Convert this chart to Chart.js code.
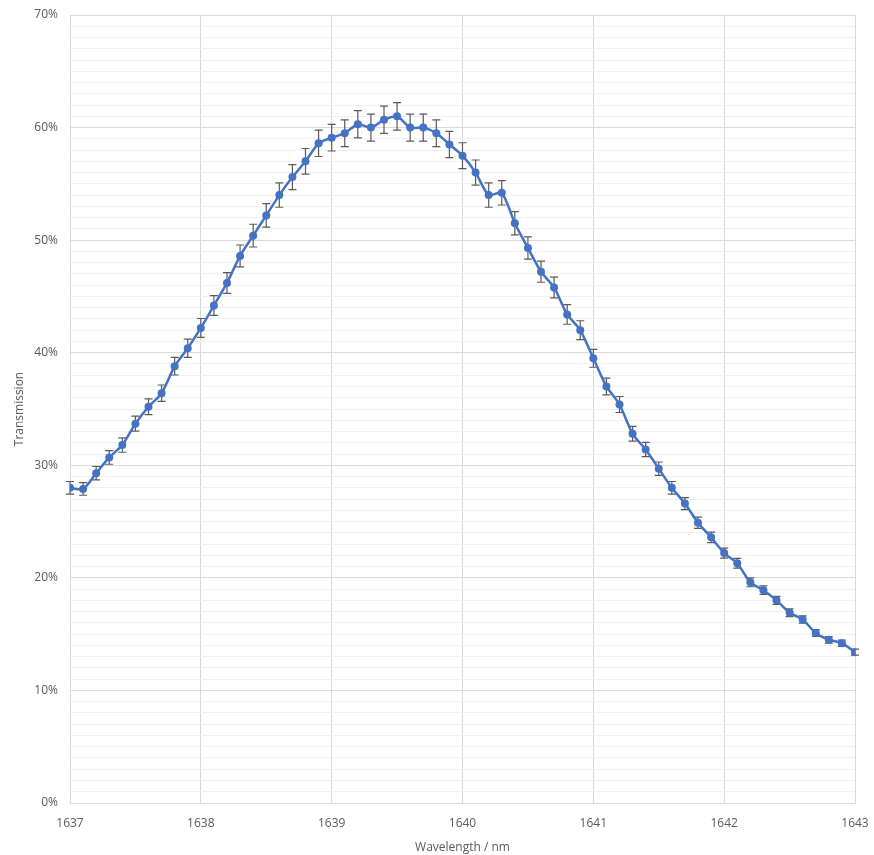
<!DOCTYPE html>
<html>
<head>
<meta charset="utf-8">
<script src="https://cdn.jsdelivr.net/npm/chart.js@4.4.0/dist/chart.umd.min.js"></script>
<style>
  html, body { margin: 0; padding: 0; background: #fff; }
  #wrap { width: 874px; height: 855px; }
</style>
</head>
<body>
<div id="wrap"><canvas id="transChart" width="874" height="855"></canvas></div>
<script>
// wavelength (nm), transmission (%), error (+/- %)
const wavelengths = [
  1637.0, 1637.1, 1637.2, 1637.3, 1637.4, 1637.5, 1637.6, 1637.7, 1637.8, 1637.9,
  1638.0, 1638.1, 1638.2, 1638.3, 1638.4, 1638.5, 1638.6, 1638.7, 1638.8, 1638.9,
  1639.0, 1639.1, 1639.2, 1639.3, 1639.4, 1639.5, 1639.6, 1639.7, 1639.8, 1639.9,
  1640.0, 1640.1, 1640.2, 1640.3, 1640.4, 1640.5, 1640.6, 1640.7, 1640.8, 1640.9,
  1641.0, 1641.1, 1641.2, 1641.3, 1641.4, 1641.5, 1641.6, 1641.7, 1641.8, 1641.9,
  1642.0, 1642.1, 1642.2, 1642.3, 1642.4, 1642.5, 1642.6, 1642.7, 1642.8, 1642.9,
  1643.0
];
const transmission = [
  28.0, 27.9, 29.3, 30.7, 31.8, 33.7, 35.2, 36.4, 38.8, 40.4,
  42.2, 44.2, 46.2, 48.6, 50.4, 52.2, 54.0, 55.6, 57.0, 58.6,
  59.1, 59.5, 60.3, 60.0, 60.7, 61.0, 60.0, 60.0, 59.5, 58.5,
  57.5, 56.0, 54.0, 54.2, 51.5, 49.3, 47.2, 45.8, 43.4, 42.0,
  39.5, 37.0, 35.4, 32.8, 31.4, 29.7, 28.0, 26.6, 24.9, 23.6,
  22.2, 21.3, 19.6, 18.9, 18.0, 16.9, 16.3, 15.1, 14.5, 14.2,
  13.4
];
const errors = [
  0.56, 0.56, 0.59, 0.61, 0.64, 0.67, 0.70, 0.73, 0.78, 0.81,
  0.84, 0.88, 0.92, 0.97, 1.01, 1.04, 1.08, 1.11, 1.14, 1.17,
  1.18, 1.19, 1.21, 1.20, 1.21, 1.22, 1.20, 1.20, 1.19, 1.17,
  1.15, 1.12, 1.08, 1.08, 1.03, 0.99, 0.94, 0.92, 0.87, 0.84,
  0.79, 0.74, 0.71, 0.66, 0.63, 0.59, 0.56, 0.53, 0.50, 0.47,
  0.44, 0.43, 0.39, 0.38, 0.36, 0.34, 0.33, 0.30, 0.29, 0.28,
  0.27
];
const yMax = 70;

const FONT = '"Open Sans", "Liberation Sans", sans-serif';
const TEXT = '#595959';

// error bars drawn through the chart's own scales
const errorBars = {
  id: 'errorBars',
  beforeDatasetsDraw(chart) {
    const { ctx, scales: { x, y } } = chart;
    ctx.save();
    ctx.strokeStyle = '#595959';
    ctx.lineWidth = 1.2;
    const cap = 4;
    wavelengths.forEach((w, i) => {
      const px = x.getPixelForValue(w);
      const top = y.getPixelForValue(transmission[i] + errors[i]);
      const bot = y.getPixelForValue(transmission[i] - errors[i]);
      ctx.beginPath();
      ctx.moveTo(px, top); ctx.lineTo(px, bot);
      ctx.moveTo(px - cap, top); ctx.lineTo(px + cap, top);
      ctx.moveTo(px - cap, bot); ctx.lineTo(px + cap, bot);
      ctx.stroke();
    });
    ctx.restore();
  }
};

const ctx = document.getElementById('transChart').getContext('2d');
new Chart(ctx, {
  type: 'line',
  data: {
    datasets: [{
      label: 'Transmission',
      data: wavelengths.map((w, i) => ({ x: w, y: transmission[i] })),
      borderColor: '#4472C4',
      backgroundColor: '#4472C4',
      borderWidth: 2.5,
      pointRadius: 4,
      pointBorderWidth: 0,
      tension: 0.25,
      fill: false
    }]
  },
  options: {
    responsive: false,
    devicePixelRatio: 1,
    animation: false,
    layout: { padding: { left: 0, right: 19, top: 15, bottom: 0 } },
    plugins: {
      legend: { display: false },
      tooltip: { enabled: false }
    },
    scales: {
      x: {
        type: 'linear',
        min: 1637,
        max: 1643,
        ticks: {
          stepSize: 1,
          color: TEXT,
          font: { family: FONT, size: 12 },
          padding: 13,
          maxRotation: 0,
          callback: v => String(v)
        },
        grid: { color: '#d9d9d9', drawTicks: false, lineWidth: 1 },
        border: { color: '#d9d9d9' },
        title: {
          display: true,
          text: 'Wavelength / nm',
          color: TEXT,
          font: { family: FONT, size: 12 },
          padding: { top: 2, bottom: 0 }
        },
        afterFit: s => { s.height = 52; s.paddingLeft = 0; s.paddingRight = 0; }
      },
      y: {
        min: 0,
        max: yMax,
        ticks: {
          stepSize: 1,
          autoSkip: false,
          color: TEXT,
          font: { family: FONT, size: 12 },
          padding: 12,
          callback: v => (v % 10 === 0 ? v + '%' : '')
        },
        grid: {
          drawTicks: false,
          color: c => (c.tick && c.tick.value % 10 === 0 ? '#d9d9d9' : '#f0f0f0'),
          lineWidth: 1
        },
        border: { color: '#d9d9d9' },
        title: {
          display: true,
          text: 'Transmission',
          color: TEXT,
          font: { family: FONT, size: 12 },
          padding: { top: 12, bottom: 4 }
        },
        afterFit: s => { s.width = 70; s.paddingTop = 0; s.paddingBottom = 0; }
      }
    }
  },
  plugins: [errorBars]
});
</script>
</body>
</html>
